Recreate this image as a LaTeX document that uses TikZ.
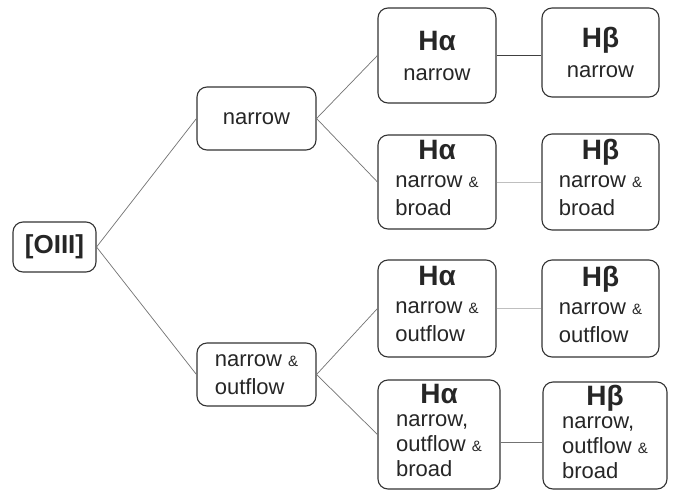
\documentclass[tikz,border=0pt]{standalone}
\usepackage{fontspec}
\setmainfont{Liberation Sans}
\tikzset{
  box/.style={draw=black!80, line width=1.1pt, rounded corners=10pt, align=center,
    inner sep=0pt, font=\fontsize{22}{28}\selectfont, text=black!85},
  link/.style={draw=black!55, line width=0.7pt},
  darklink/.style={draw=black!75, line width=1pt},
  lightlink/.style={draw=black!25, line width=0.9pt},
}
\newcommand\amp{{\fontsize{15}{15}\selectfont\&}}
\newcommand\hd[1]{{\fontsize{28}{30}\selectfont\bfseries #1}}
\newcommand\lft[1]{\begin{tabular}[t]{@{}l@{}}#1\end{tabular}}
\begin{document}
\begin{tikzpicture}[x=1pt,y=-1pt]
\fill[white] (0,0) rectangle (673,491);
\useasboundingbox (0,0) rectangle (673,491);
% level 0
\node[box, minimum width=83pt, minimum height=50pt, font=\fontsize{26}{30}\selectfont\bfseries] (o) at (54.5,247) {[OIII]};
% level 1
\node[box, minimum width=119pt, minimum height=63pt] (n1) at (256.5,118.5) {narrow};
\node[box, minimum width=119pt, minimum height=63pt] (n2) at (256.5,374.5) {\lft{narrow \amp\\outflow}};
% H alpha
\node[box, minimum width=118pt, minimum height=95pt] (a1) at (437,55.5) {\hd{Hα}\\[2pt] narrow};
\node[box, minimum width=118pt, minimum height=94pt] (a2) at (437,182) {\hd{Hα}\\[0pt] \lft{narrow \amp\\broad}};
\node[box, minimum width=118pt, minimum height=97pt] (a3) at (437,308.5) {\hd{Hα}\\[0pt] \lft{narrow \amp\\outflow}};
\node[box, minimum width=122pt, minimum height=109pt, font=\fontsize{22}{25}\selectfont] (a4) at (439,434.5) {\hd{Hα}\\[-2pt] \lft{narrow,\\outflow \amp\\broad}};
% H beta
\node[box, minimum width=117pt, minimum height=89pt] (b1) at (600.5,52.5) {\hd{Hβ}\\[2pt] narrow};
\node[box, minimum width=117pt, minimum height=96pt] (b2) at (600.5,182) {\hd{Hβ}\\[0pt] \lft{narrow \amp\\broad}};
\node[box, minimum width=117pt, minimum height=97pt] (b3) at (600.5,308.5) {\hd{Hβ}\\[0pt] \lft{narrow \amp\\outflow}};
\node[box, minimum width=124pt, minimum height=107pt, font=\fontsize{22}{25}\selectfont] (b4) at (605,435.5) {\hd{Hβ}\\[-2pt] \lft{narrow,\\outflow \amp\\broad}};
% connectors
\draw[link] (o.east) -- (n1.west);
\draw[link] (o.east) -- (n2.west);
\draw[link] (n1.east) -- (a1.west);
\draw[link] (n1.east) -- (a2.west);
\draw[link] (n2.east) -- (a3.west);
\draw[link] (n2.east) -- (a4.west);
\draw[darklink] (a1.east) -- (a1.east -| b1.west);
\draw[lightlink] (a2.east) -- (a2.east -| b2.west);
\draw[lightlink] (a3.east) -- (a3.east -| b3.west);
\coordinate (a4r) at ([yshift=-8pt]a4.east);
\draw[link] (a4r) -- (a4r -| b4.west);
\end{tikzpicture}
\end{document}
